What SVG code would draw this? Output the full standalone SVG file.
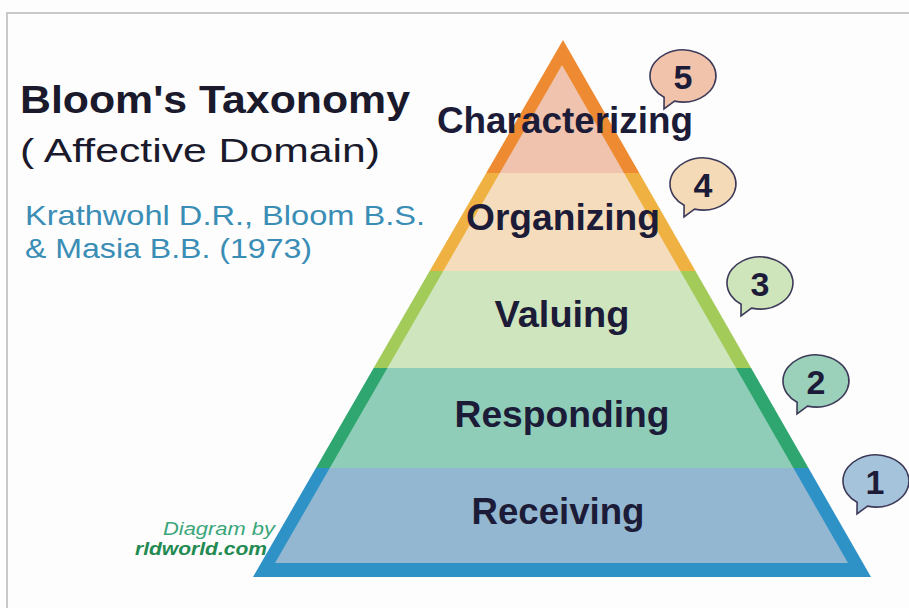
<svg xmlns="http://www.w3.org/2000/svg" width="909" height="608" viewBox="0 0 909 608">
<style>
.lbl{font-family:"Liberation Sans",Arial,sans-serif;font-weight:bold;font-size:36px;fill:#1c1c38;text-anchor:middle}
.num{font-family:"Liberation Sans",Arial,sans-serif;font-weight:bold;font-size:34px;fill:#1c1c38;text-anchor:middle}
.bub{stroke:#3c3a58;stroke-width:1.6}
.cite{font-family:"Liberation Sans",Arial,sans-serif;font-size:28px;fill:#3a8db5}
</style>
<defs>
<polygon id="outer" points="563,40 253,577 871,577"/>
<polygon id="inner" points="562,65 275,563 848,563"/>
<path id="bubble" d="M -8.5,25.1 L -19,33 L -18.9,21.3 A 33 26 0 1 1 -8.5,25.1 Z"/>
<clipPath id="c5"><rect x="0" y="0" width="909" height="173"/></clipPath>
<clipPath id="c4"><rect x="0" y="173" width="909" height="98"/></clipPath>
<clipPath id="c3"><rect x="0" y="271" width="909" height="97"/></clipPath>
<clipPath id="c2"><rect x="0" y="368" width="909" height="100"/></clipPath>
<clipPath id="c1"><rect x="0" y="468" width="909" height="140"/></clipPath>
</defs>
<rect x="0" y="0" width="909" height="608" fill="#fdfdfd"/>
<path d="M7,608 V13 H909" fill="none" stroke="#c9c9c9" stroke-width="2"/>

<g id="title">
<text x="20" y="113" font-family="Liberation Sans,Arial,sans-serif" font-weight="bold" font-size="38" fill="#1a1a2c" textLength="390" lengthAdjust="spacingAndGlyphs">Bloom's Taxonomy</text>
<text x="20" y="162" font-family="Liberation Sans,Arial,sans-serif" font-size="34" fill="#1a1a2c" textLength="360" lengthAdjust="spacingAndGlyphs">( Affective Domain)</text>
<text class="cite" x="25" y="225" textLength="400" lengthAdjust="spacingAndGlyphs">Krathwohl D.R., Bloom B.S.</text>
<text class="cite" x="25" y="258" textLength="287" lengthAdjust="spacingAndGlyphs">&amp; Masia B.B. (1973)</text>
</g>

<g id="level5">
<g clip-path="url(#c5)"><use href="#outer" fill="#ee8a32"/><use href="#inner" fill="#f0c3ae"/></g>
<text class="lbl" x="565" y="133" font-size="34" textLength="256" lengthAdjust="spacingAndGlyphs">Characterizing</text>
</g>
<g id="level4">
<g clip-path="url(#c4)"><use href="#outer" fill="#efb142"/><use href="#inner" fill="#f5dcbc"/></g>
<text class="lbl" x="563" y="230" textLength="194" lengthAdjust="spacingAndGlyphs">Organizing</text>
</g>
<g id="level3">
<g clip-path="url(#c3)"><use href="#outer" fill="#a3cb5a"/><use href="#inner" fill="#cfe5bd"/></g>
<text class="lbl" x="562" y="327" textLength="135" lengthAdjust="spacingAndGlyphs">Valuing</text>
</g>
<g id="level2">
<g clip-path="url(#c2)"><use href="#outer" fill="#2fa66f"/><use href="#inner" fill="#8fcdb8"/></g>
<text class="lbl" x="562" y="427" textLength="215" lengthAdjust="spacingAndGlyphs">Responding</text>
</g>
<g id="level1">
<g clip-path="url(#c1)"><use href="#outer" fill="#2e92c6"/><use href="#inner" fill="#93b7d1"/></g>
<text class="lbl" x="558" y="524" textLength="173" lengthAdjust="spacingAndGlyphs">Receiving</text>
</g>

<g id="bubble5"><use href="#bubble" class="bub" x="683" y="76" fill="#f2c3ab"/><text class="num" x="683" y="89">5</text></g>
<g id="bubble4"><use href="#bubble" class="bub" x="703" y="184" fill="#f5dab8"/><text class="num" x="703" y="197">4</text></g>
<g id="bubble3"><use href="#bubble" class="bub" x="760" y="283" fill="#cee4bb"/><text class="num" x="760" y="296">3</text></g>
<g id="bubble2"><use href="#bubble" class="bub" x="816" y="381" fill="#9bd0ba"/><text class="num" x="816" y="394">2</text></g>
<g id="bubble1"><use href="#bubble" class="bub" x="876" y="481" fill="#a6c3dc"/><text class="num" x="875" y="494">1</text></g>

<g id="credit">
<text x="163" y="535" font-family="Liberation Sans,Arial,sans-serif" font-style="italic" font-size="19" fill="#3aa67a" textLength="112" lengthAdjust="spacingAndGlyphs">Diagram by</text>
<text x="135" y="555" font-family="Liberation Sans,Arial,sans-serif" font-style="italic" font-weight="bold" font-size="19" fill="#238a52" textLength="132" lengthAdjust="spacingAndGlyphs">rldworld.com</text>
</g>
<g id="connectors"/>
</svg>
